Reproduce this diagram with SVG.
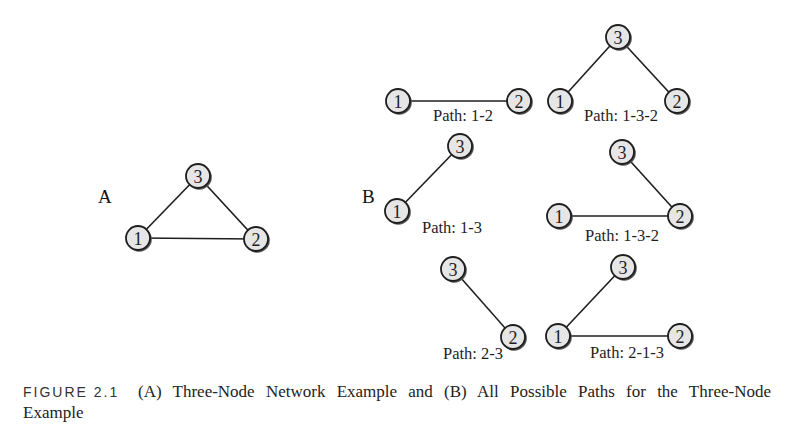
<svg xmlns="http://www.w3.org/2000/svg" width="794" height="441" viewBox="0 0 794 441">
<defs>
<style>
.edge{stroke:#1e1e1e;stroke-width:1.6;fill:none}
.sh{fill:#555;stroke:none}
.nd{fill:#e6e6e6;stroke:#1e1e1e;stroke-width:1.8}
.nt{font-family:"Liberation Serif",serif;font-size:18px;fill:#1e1e1e;text-anchor:middle}
.lbl{font-family:"Liberation Serif",serif;font-size:16.5px;fill:#1e1e1e;text-anchor:middle}
.pl{font-family:"Liberation Serif",serif;font-size:19px;fill:#111}
.cap{font-family:"Liberation Serif",serif;font-size:17px;fill:#222}
.fig{font-family:"Liberation Sans",sans-serif;font-size:14px;fill:#333;letter-spacing:2px}
</style>
</defs>
<rect width="794" height="441" fill="#fff"/>
<g id="connectors">
<line class="edge" x1="138" y1="238" x2="198" y2="176"/>
<line class="edge" x1="198" y1="176" x2="256" y2="239"/>
<line class="edge" x1="138" y1="238" x2="256" y2="239"/>
<line class="edge" x1="398" y1="101" x2="519" y2="101"/>
<line class="edge" x1="560" y1="101" x2="618" y2="37"/>
<line class="edge" x1="618" y1="37" x2="677" y2="101"/>
<line class="edge" x1="397" y1="211" x2="460" y2="146"/>
<line class="edge" x1="622" y1="152" x2="680" y2="216"/>
<line class="edge" x1="559" y1="216" x2="680" y2="216"/>
<line class="edge" x1="453" y1="269" x2="513" y2="337"/>
<line class="edge" x1="558" y1="336" x2="623" y2="267"/>
<line class="edge" x1="558" y1="336" x2="680" y2="336"/>
</g>
<g id="A-n3"><circle class="sh" cx="199.2" cy="177.2" r="12.6"/><circle class="nd" cx="198" cy="176" r="12"/><text class="nt" x="198" y="182.5">3</text></g>
<g id="A-n1"><circle class="sh" cx="139.2" cy="239.2" r="12.6"/><circle class="nd" cx="138" cy="238" r="12"/><text class="nt" x="138" y="244.5">1</text></g>
<g id="A-n2"><circle class="sh" cx="257.2" cy="240.2" r="12.6"/><circle class="nd" cx="256" cy="239" r="12"/><text class="nt" x="256" y="245.5">2</text></g>
<g id="B1-n1"><circle class="sh" cx="399.2" cy="102.2" r="12.6"/><circle class="nd" cx="398" cy="101" r="12"/><text class="nt" x="398" y="107.5">1</text></g>
<g id="B1-n2"><circle class="sh" cx="520.2" cy="102.2" r="12.6"/><circle class="nd" cx="519" cy="101" r="12"/><text class="nt" x="519" y="107.5">2</text></g>
<g id="B2-n3"><circle class="sh" cx="619.2" cy="38.2" r="12.6"/><circle class="nd" cx="618" cy="37" r="12"/><text class="nt" x="618" y="43.5">3</text></g>
<g id="B2-n1"><circle class="sh" cx="561.2" cy="102.2" r="12.6"/><circle class="nd" cx="560" cy="101" r="12"/><text class="nt" x="560" y="107.5">1</text></g>
<g id="B2-n2"><circle class="sh" cx="678.2" cy="102.2" r="12.6"/><circle class="nd" cx="677" cy="101" r="12"/><text class="nt" x="677" y="107.5">2</text></g>
<g id="B3-n3"><circle class="sh" cx="461.2" cy="147.2" r="12.6"/><circle class="nd" cx="460" cy="146" r="12"/><text class="nt" x="460" y="152.5">3</text></g>
<g id="B3-n1"><circle class="sh" cx="398.2" cy="212.2" r="12.6"/><circle class="nd" cx="397" cy="211" r="12"/><text class="nt" x="397" y="217.5">1</text></g>
<g id="B4-n3"><circle class="sh" cx="623.2" cy="153.2" r="12.6"/><circle class="nd" cx="622" cy="152" r="12"/><text class="nt" x="622" y="158.5">3</text></g>
<g id="B4-n1"><circle class="sh" cx="560.2" cy="217.2" r="12.6"/><circle class="nd" cx="559" cy="216" r="12"/><text class="nt" x="559" y="222.5">1</text></g>
<g id="B4-n2"><circle class="sh" cx="681.2" cy="217.2" r="12.6"/><circle class="nd" cx="680" cy="216" r="12"/><text class="nt" x="680" y="222.5">2</text></g>
<g id="B5-n3"><circle class="sh" cx="454.2" cy="270.2" r="12.6"/><circle class="nd" cx="453" cy="269" r="12"/><text class="nt" x="453" y="275.5">3</text></g>
<g id="B5-n2"><circle class="sh" cx="514.2" cy="338.2" r="12.6"/><circle class="nd" cx="513" cy="337" r="12"/><text class="nt" x="513" y="343.5">2</text></g>
<g id="B6-n3"><circle class="sh" cx="624.2" cy="268.2" r="12.6"/><circle class="nd" cx="623" cy="267" r="12"/><text class="nt" x="623" y="273.5">3</text></g>
<g id="B6-n1"><circle class="sh" cx="559.2" cy="337.2" r="12.6"/><circle class="nd" cx="558" cy="336" r="12"/><text class="nt" x="558" y="342.5">1</text></g>
<g id="B6-n2"><circle class="sh" cx="681.2" cy="337.2" r="12.6"/><circle class="nd" cx="680" cy="336" r="12"/><text class="nt" x="680" y="342.5">2</text></g>
<g id="labels">
<text class="pl" x="98" y="203">A</text>
<text class="pl" x="362" y="203">B</text>
<text class="lbl" x="463" y="121">Path: 1-2</text>
<text class="lbl" x="621" y="121">Path: 1-3-2</text>
<text class="lbl" x="452" y="233">Path: 1-3</text>
<text class="lbl" x="622" y="241">Path: 1-3-2</text>
<text class="lbl" x="473" y="359">Path: 2-3</text>
<text class="lbl" x="627" y="358">Path: 2-1-3</text>
</g>
<g id="caption">
<text class="fig" x="23" y="397">FIGURE 2.1</text>
<text class="cap" x="138" y="397" word-spacing="7">(A) Three-Node Network Example and (B) All Possible Paths for the Three-Node</text>
<text class="cap" x="23" y="418">Example</text>
</g>
</svg>
